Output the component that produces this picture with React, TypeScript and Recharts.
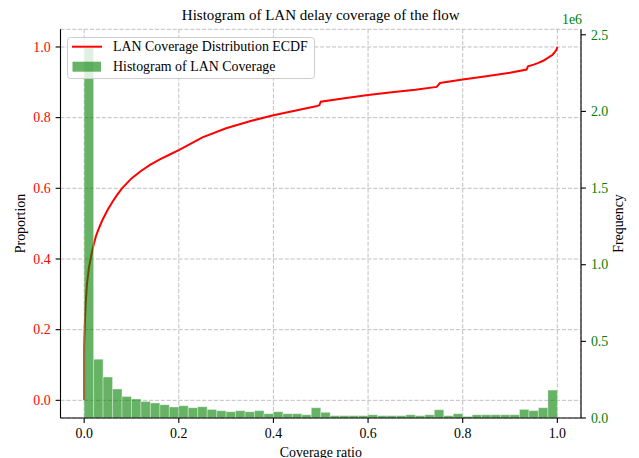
import React from 'react';
import { ComposedChart, Bar, Line, XAxis, YAxis, CartesianGrid, Legend } from 'recharts';

// ---- data ----
const BIN_WIDTH = 0.02;
const binFrequency = [
  2415000, 384000, 267000, 189000, 141000, 124000, 108000, 98000, 87000, 72000,
  80000, 67000, 74000, 56000, 48000, 41000, 48000, 41000, 48000, 28000,
  41000, 28000, 28000, 21000, 67000, 37000, 15000, 15000, 15000, 15000,
  21000, 15000, 15000, 15000, 21000, 15000, 21000, 54000, 15000, 28000,
  10000, 21000, 21000, 21000, 21000, 21000, 56000, 48000, 67000, 182000,
];
const ecdfX = [
  0, 0, 0.001, 0.003, 0.006, 0.01, 0.015, 0.02, 0.025, 0.03,
  0.035, 0.04, 0.05, 0.06, 0.07, 0.08, 0.1, 0.12, 0.14, 0.16,
  0.18, 0.2, 0.25, 0.3, 0.35, 0.4, 0.45, 0.49, 0.497, 0.5,
  0.55, 0.6, 0.65, 0.7, 0.745, 0.752, 0.8, 0.85, 0.9, 0.935,
  0.938, 0.95, 0.96, 0.97, 0.98, 0.99, 0.995, 0.998, 1.0,
];
const ecdfP = [
  0, 0.15, 0.2, 0.27, 0.33, 0.375, 0.41, 0.44, 0.465, 0.483,
  0.499, 0.514, 0.54, 0.562, 0.582, 0.6, 0.628, 0.649, 0.667, 0.682,
  0.695, 0.708, 0.744, 0.77, 0.79, 0.807, 0.821, 0.832, 0.835, 0.845,
  0.855, 0.864, 0.872, 0.879, 0.887, 0.898, 0.908, 0.917, 0.927, 0.936,
  0.945, 0.95, 0.955, 0.961, 0.969, 0.978, 0.986, 0.992, 1.0,
];
const xTicks = [0, 0.2, 0.4, 0.6, 0.8, 1.0];
const leftTicks = [0, 0.2, 0.4, 0.6, 0.8, 1.0];
const rightTicks = [0, 500000, 1000000, 1500000, 2000000, 2500000];
const titleText = 'Histogram of LAN delay coverage of the flow';
const xLabel = 'Coverage ratio';
const leftLabel = 'Proportion';
const rightLabel = 'Frequency';
const ecdfName = 'LAN Coverage Distribution ECDF';
const histName = 'Histogram of LAN Coverage';

const histData = binFrequency.map((f, i) => ({ x: (i + 0.5) * BIN_WIDTH, freq: f }));
const ecdfData = ecdfX.map((x, i) => ({ x, p: ecdfP[i] }));
const maxFreq = Math.max(...binFrequency);

const FONT = '"Liberation Serif", "Times New Roman", serif';
const FS = 13.9;
const GREEN = '#008000';
const RED = '#ff0000';

const LegendBox = () => (
  <svg width={249} height={43} style={{ display: 'block' }}>
    <rect x={0.5} y={0.5} width={247} height={41} rx={3} ry={3} fill="rgba(255,255,255,0.8)" stroke="#cccccc" strokeWidth={1} />
    <line x1={5} x2={35} y1={9.7} y2={9.7} stroke={RED} strokeWidth={2} />
    <text x={46} y={14.3} fontFamily={FONT} fontSize={FS} fill="#000">{ecdfName}</text>
    <rect x={5.5} y={24.7} width={28.5} height={10} fill={GREEN} fillOpacity={0.6} />
    <text x={46} y={34.3} fontFamily={FONT} fontSize={FS} fill="#000">{histName}</text>
  </svg>
);

const makeTick = (color: string, anchor: 'middle' | 'end' | 'start', dy: string, fmt: (v: number) => string) =>
  (props: any) => {
    const { x, y, payload } = props;
    return (
      <text x={x} y={y} dy={dy} textAnchor={anchor} fontFamily={FONT} fontSize={FS} fill={color}>
        {fmt(payload.value)}
      </text>
    );
  };

export default function App() {
  return (
    <div style={{ position: 'absolute', left: 0, top: 0, width: 639, height: 458, background: '#fff', fontFamily: FONT }}>
      <ComposedChart
        width={639}
        height={458}
        data={histData}
        margin={{ top: 29.3, right: 0, bottom: 0, left: 0 }}
        style={{ fontFamily: FONT }}
      >
        <CartesianGrid
          xAxisId="x"
          yAxisId="left"
          stroke="#b0b0b0"
          strokeDasharray="4.1 1.8"
          strokeWidth={0.8}
        />
        <XAxis
          xAxisId="x"
          type="number"
          dataKey="x"
          domain={[-0.05, 1.05]}
          allowDataOverflow
          ticks={xTicks}
          height={40}
          tickSize={4.9}
          tickMargin={5}
          tick={makeTick('#000', 'middle', '0.71em', (v) => v.toFixed(1))}
          axisLine={{ stroke: '#000', strokeWidth: 1.1 }}
          tickLine={{ stroke: '#000', strokeWidth: 1.1 }}
        />
        <XAxis
          xAxisId="top"
          orientation="top"
          type="number"
          dataKey="x"
          domain={[-0.05, 1.05]}
          allowDataOverflow
          height={0}
          tick={false}
          tickLine={false}
          axisLine={{ stroke: '#000', strokeWidth: 1.1 }}
        />
        <YAxis
          yAxisId="left"
          type="number"
          domain={[-0.05, 1.05]}
          allowDataOverflow
          ticks={leftTicks}
          width={60.5}
          tickSize={4.9}
          tickMargin={5}
          tick={makeTick(RED, 'end', '0.34em', (v) => v.toFixed(1))}
          axisLine={{ stroke: '#000', strokeWidth: 1.1 }}
          tickLine={{ stroke: '#000', strokeWidth: 1.1 }}
        />
        <YAxis
          yAxisId="right"
          orientation="right"
          type="number"
          domain={[0, maxFreq * 1.05]}
          allowDataOverflow
          ticks={rightTicks}
          width={58}
          tickSize={4.9}
          tickMargin={5}
          tick={makeTick(GREEN, 'start', '0.34em', (v) => (v / 1e6).toFixed(1))}
          axisLine={{ stroke: '#000', strokeWidth: 1.1 }}
          tickLine={{ stroke: '#000', strokeWidth: 1.1 }}
        />
        <Line
          xAxisId="top"
          yAxisId="left"
          data={ecdfData}
          dataKey="p"
          name={ecdfName}
          type="linear"
          stroke={RED}
          strokeWidth={2}
          dot={false}
          activeDot={false}
          isAnimationActive={false}
        />
        <Bar
          xAxisId="x"
          yAxisId="right"
          dataKey="freq"
          name={histName}
          fill={GREEN}
          fillOpacity={0.6}
          stroke="rgba(255,255,255,0.5)"
          strokeWidth={0.7}
          barSize={9.46}
          isAnimationActive={false}
          {...({ zIndex: 450 } as any)}
        />
        <Legend
          layout="horizontal"
          verticalAlign="middle"
          align="center"
          content={() => <LegendBox />}
          wrapperStyle={{ left: 67, top: 37, width: 249, height: 43, zIndex: 10 }}
        />
      </ComposedChart>
      <svg
        width={639}
        height={458}
        style={{ position: 'absolute', left: 0, top: 0, pointerEvents: 'none' }}
      >
        <text x={320.75} y={20} textAnchor="middle" fontFamily={FONT} fontSize={15} fill="#000">{titleText}</text>
        <text x={320.75} y={456.5} textAnchor="middle" fontFamily={FONT} fontSize={FS} fill="#000">{xLabel}</text>
        <text x={25.2} y={223.5} textAnchor="middle" fontFamily={FONT} fontSize={FS} fill="#000" transform="rotate(-90 25.2 223.5)">{leftLabel}</text>
        <text x={622.5} y={223.5} textAnchor="middle" fontFamily={FONT} fontSize={FS} fill="#000" transform="rotate(-90 622.5 223.5)">{rightLabel}</text>
        <text x={582} y={24} textAnchor="end" fontFamily={FONT} fontSize={FS} fill={GREEN}>1e6</text>
      </svg>
    </div>
  );
}
